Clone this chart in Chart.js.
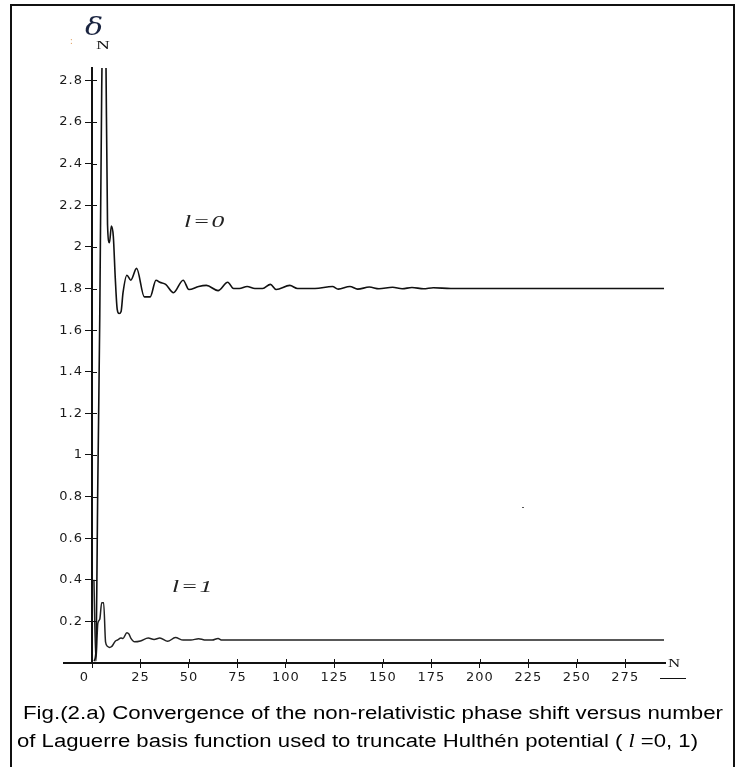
<!DOCTYPE html>
<html>
<head>
<meta charset="utf-8">
<script src="https://cdn.jsdelivr.net/npm/chart.js@4.4.1/dist/chart.umd.min.js"></script>
<style>
  html, body { margin: 0; padding: 0; background: #fff; }
  #wrap { position: relative; width: 739px; height: 767px; overflow: hidden; }
  #frame { position: absolute; left: 10px; top: 4px; width: 721px; height: 780px; border: 2px solid #111; border-bottom: none; }
  canvas { position: absolute; left: 0; top: 0; }
  .lbl { position: absolute; white-space: nowrap; color: #111; line-height: 1; }
  .ital { font-family: "Liberation Serif", serif; font-style: italic; font-size: 16px; transform: scaleX(1.6); transform-origin: 0 0; letter-spacing: 1px; color: #222; }
  .cap { position: absolute; font-family: "Liberation Sans", Arial, sans-serif; font-size: 18px; color: #000; white-space: nowrap; transform-origin: 0 50%; line-height: 1; }
</style>
</head>
<body>
<div id="wrap">
  <div id="frame"></div>
  <canvas id="myChart" width="739" height="767"></canvas>
  <div class="lbl" style="left:70px;top:36px;font-size:10px;color:#e0a060;">:</div>
  <div class="lbl" style="left:85px;top:15px;font-family:'DejaVu Serif',serif;font-style:italic;font-size:24px;color:#1a2440;transform:scaleX(1.25);transform-origin:0 0;">&delta;</div>
  <div class="lbl" style="left:96px;top:39px;font-family:'Liberation Serif',serif;font-size:12px;transform:scaleX(1.6);transform-origin:0 0;">N</div>
  <div class="lbl" style="left:668px;top:657px;font-family:'Liberation Serif',serif;font-size:12px;transform:scaleX(1.4);transform-origin:0 0;">N</div>
  <div class="lbl" style="left:660px;top:678px;width:26px;height:1px;background:#111;"></div>
  <div class="lbl ital" style="left:184px;top:214px;">l=0</div>
  <div class="lbl ital" style="left:172px;top:579px;">l=1</div>
  <div class="lbl" style="left:522px;top:507px;width:2px;height:1px;background:#555;"></div>
  <div class="cap" id="cap1" style="left:23px;top:704px;">Fig.(2.a) Convergence of the non-relativistic phase shift versus number</div>
  <div class="cap" id="cap2" style="left:17px;top:732px;">of Laguerre basis function used to truncate Hulthén potential ( <span style="font-family:'Liberation Serif',serif;font-style:italic;">l</span> =0, 1)</div>
</div>
<script>
// N (number of Laguerre basis functions) and phase shift, l = 0
const nL0 = [1,2,3,4,5,6,7,8,9,10,11,12,13,14,15,16,18,20,23,27,30,33,35,38,42,47,50,55,59,65,70,73,76,80,84,88,92,95,102,106,115,124,127,133,137,143,148,155,160,165,171,176,185,295];
const delta0 = [0.01,0.05,0.87,1.66,2.75,3.3,3.1,2.11,2.02,2.10,2.05,1.85,1.70,1.68,1.69,1.78,1.864,1.84,1.897,1.76,1.76,1.84,1.83,1.82,1.78,1.84,1.795,1.81,1.815,1.79,1.83,1.80,1.80,1.81,1.80,1.80,1.82,1.795,1.815,1.80,1.80,1.81,1.797,1.81,1.797,1.807,1.799,1.806,1.799,1.805,1.799,1.804,1.80,1.80];

// l = 1
const nL1 = [1,2,3,4,5,6,7,8,9,10,11,12,13,15,16,18,19,20,22,25,29,32,35,39,43,47,51,55,58,62,65,67,295];
const delta1 = [0.40,0.01,0.19,0.21,0.29,0.29,0.10,0.08,0.075,0.078,0.09,0.105,0.11,0.12,0.118,0.146,0.14,0.12,0.102,0.106,0.12,0.113,0.12,0.104,0.122,0.11,0.11,0.117,0.111,0.11,0.118,0.11,0.11];

const xTicks = [0,25,50,75,100,125,150,175,200,225,250,275];
const yTicks = [0.2,0.4,0.6,0.8,1,1.2,1.4,1.6,1.8,2,2.2,2.4,2.6,2.8];

const toPoints = (xs, ys) => xs.map((n, i) => ({x: n, y: ys[i]}));

// wider spacing in the tick labels, like the original plot
const spacing = {
    id: 'spacing',
    beforeInit(chart) { chart.ctx.letterSpacing = '1px'; },
    beforeDraw(chart) { chart.ctx.letterSpacing = '1px'; }
};

// tick marks cross the axis line, and the N axis runs a bit left of the origin
const crossTicks = {
    id: 'crossTicks',
    afterDraw(chart) {
        const {ctx, chartArea, scales} = chart;
        ctx.save();
        ctx.strokeStyle = '#111';
        ctx.lineWidth = 1;
        ctx.beginPath();
        scales.y.ticks.forEach(t => {
            const py = Math.round(scales.y.getPixelForValue(t.value)) + 0.5;
            ctx.moveTo(chartArea.left, py);
            ctx.lineTo(chartArea.left + 5, py);
        });
        scales.x.ticks.forEach(t => {
            const px = Math.round(scales.x.getPixelForValue(t.value)) + 0.5;
            ctx.moveTo(px, chartArea.bottom);
            ctx.lineTo(px, chartArea.bottom - 4);
        });
        ctx.stroke();
        ctx.lineWidth = 2;
        ctx.beginPath();
        ctx.moveTo(chartArea.left - 29, chartArea.bottom);
        ctx.lineTo(chartArea.left, chartArea.bottom);
        ctx.stroke();
        ctx.restore();
    }
};

const tickFont = {family: 'DejaVu Sans', size: 13};

new Chart(document.getElementById('myChart').getContext('2d'), {
    type: 'line',
    data: {
        datasets: [
            {label: 'l=0', data: toPoints(nL0, delta0), borderColor: '#111', borderWidth: 1.6, pointRadius: 0, cubicInterpolationMode: 'monotone'},
            {label: 'l=1', data: toPoints(nL1, delta1), borderColor: '#222', borderWidth: 1.5, pointRadius: 0, cubicInterpolationMode: 'monotone'}
        ]
    },
    options: {
        responsive: false,
        animation: false,
        layout: {padding: {left: 0, top: 68, right: 74, bottom: 74}},
        plugins: {legend: {display: false}, tooltip: {enabled: false}},
        scales: {
            x: {
                type: 'linear',
                min: 0,
                max: 295.5,
                afterBuildTicks: s => { s.ticks = xTicks.map(v => ({value: v})); },
                afterFit: s => { s.height = 30; },
                grid: {display: true, drawOnChartArea: false, drawTicks: true, tickLength: 5, color: '#111'},
                border: {display: true, width: 2, color: '#111'},
                ticks: {
                    font: tickFont, color: '#1a1a1a', padding: 2, maxRotation: 0, autoSkip: false,
                    callback: v => v === 0 ? '0   ' : String(v)
                }
            },
            y: {
                min: 0,
                max: 2.86,
                afterBuildTicks: s => { s.ticks = yTicks.map(v => ({value: v})); },
                afterFit: s => { s.width = 92; },
                grid: {display: true, drawOnChartArea: false, drawTicks: true, tickLength: 7, color: '#111'},
                border: {display: true, width: 2, color: '#111'},
                ticks: {
                    font: tickFont, color: '#1a1a1a', padding: 2, autoSkip: false,
                    callback: v => String(Number(v.toFixed(1)))
                }
            }
        }
    },
    plugins: [spacing, crossTicks]
});

// fit the caption lines to the width they take in the figure
[['cap1', 700], ['cap2', 681]].forEach(([id, target]) => {
    const el = document.getElementById(id);
    const w = el.getBoundingClientRect().width;
    el.style.transform = 'scaleX(' + (target / w) + ')';
});
</script>
</body>
</html>
